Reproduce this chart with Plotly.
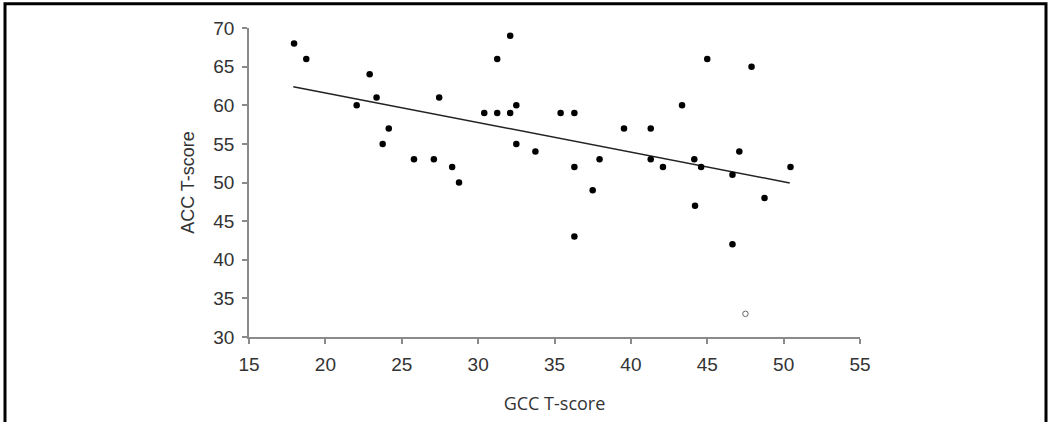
import plotly.graph_objects as go

# GCC T-score (x) and ACC T-score (y), filled points
gcc = [17.95, 18.75, 22.05, 22.9, 23.35, 23.75, 24.15, 25.8, 27.1, 27.45,
       28.3, 28.75, 30.4, 31.25, 31.25, 32.1, 32.1, 32.5, 32.5, 33.75,
       35.4, 36.3, 36.3, 36.3, 37.5, 37.95, 39.55, 41.3, 41.3, 42.1,
       43.35, 44.15, 44.2, 44.6, 45.0, 46.65, 46.65, 47.1, 47.9, 48.75,
       50.45]
acc = [68, 66, 60, 64, 61, 55, 57, 53, 53, 61,
       52, 50, 59, 59, 66, 69, 59, 60, 55, 54,
       59, 59, 52, 43, 49, 53, 57, 57, 53, 52,
       60, 53, 47, 52, 66, 51, 42, 54, 65, 48,
       52]

# outlier (open marker)
out_gcc = [47.5]
out_acc = [33]

# fitted line end points
fit_gcc = [17.9, 50.4]
fit_acc = [62.4, 49.95]

x_ticks = [15, 20, 25, 30, 35, 40, 45, 50, 55]
y_ticks = [30, 35, 40, 45, 50, 55, 60, 65, 70]

fig = go.Figure()
fig.add_trace(go.Scatter(x=fit_gcc, y=fit_acc, mode="lines",
                         line=dict(color="#222222", width=1.5),
                         hoverinfo="skip", showlegend=False))
fig.add_trace(go.Scatter(x=gcc, y=acc, mode="markers",
                         marker=dict(color="black", size=6.5),
                         showlegend=False))
fig.add_trace(go.Scatter(x=out_gcc, y=out_acc, mode="markers",
                         marker=dict(color="white", size=5.5,
                                     line=dict(color="#666666", width=1)),
                         showlegend=False))

axis_common = dict(showgrid=False, zeroline=False, showline=True,
                   linecolor="#8a8a8a", linewidth=1.5,
                   ticks="outside", ticklen=5, tickcolor="#8a8a8a", tickwidth=1.5,
                   ticklabelstandoff=4,
                   tickfont=dict(family="Liberation Sans, Arial", size=19, color="#333333"))

fig.update_xaxes(range=[15, 55], tickvals=x_ticks, **axis_common,
                 title=dict(text="GCC T-score", standoff=24,
                            font=dict(family="Open Sans", size=18, color="#333333")))
fig.update_yaxes(range=[30, 70], tickvals=y_ticks, **axis_common,
                 title=dict(text="ACC T-score", standoff=14,
                            font=dict(family="Liberation Sans, Arial", size=18, color="#333333")))

# outer frame
L, R, T, B = 249, 860, 28.3, 336.7
def px2paper_x(p):
    return (p - L) / (R - L)
def px2paper_y(p):
    return (B - p) / (B - T)

fig.add_shape(type="rect", xref="paper", yref="paper",
              x0=px2paper_x(5), x1=px2paper_x(1046),
              y0=px2paper_y(440), y1=px2paper_y(4),
              line=dict(color="black", width=3), fillcolor="rgba(0,0,0,0)")

fig.update_layout(width=1049, height=422,
                  margin=dict(l=L, r=1049 - R, t=T, b=422 - B),
                  paper_bgcolor="white", plot_bgcolor="white")

fig.write_html("out.html")
